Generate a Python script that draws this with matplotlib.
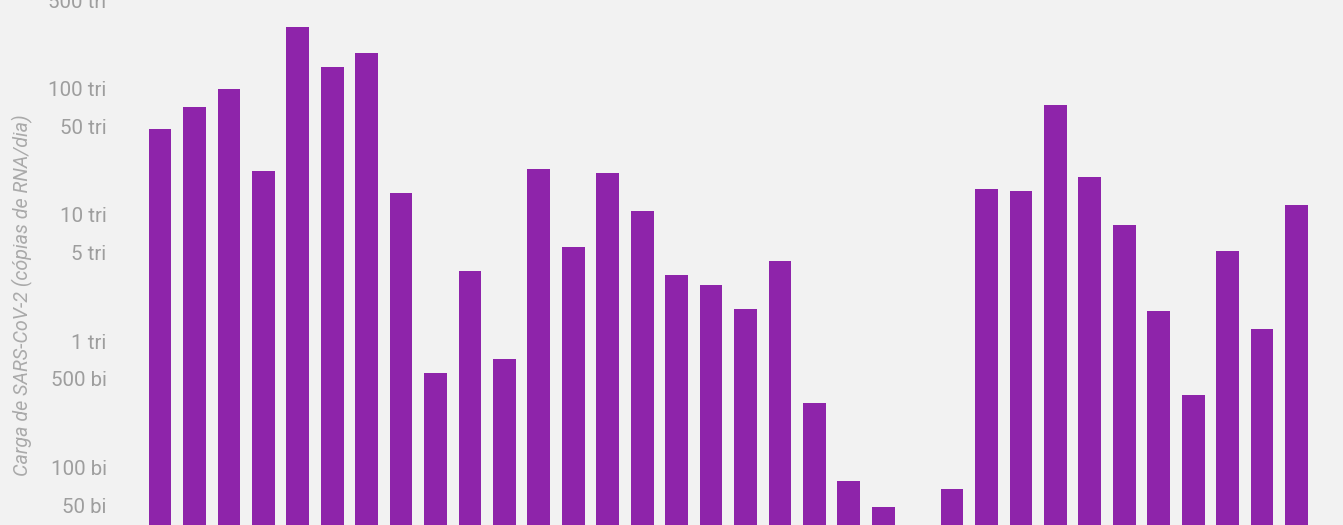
import numpy as np
import matplotlib
matplotlib.use('Agg')
import matplotlib.pyplot as plt

# valores (cópias de RNA/dia), uma barra por semana
semanas = [f'S{i}' for i in range(1, 35)]
carga = [48e12, 72e12, 100e12, 22.3e12, 310e12, 150e12, 193e12, 15e12,
         557e9, 3.6e12, 720e9, 23.2e12, 5.57e12, 21.5e12, 10.8e12, 3.34e12,
         2.78e12, 1.80e12, 4.31e12, 322e9, 77e9, 48e9, np.nan, 67e9,
         16.1e12, 15.5e12, 74.7e12, 20e12, 8.33e12, 1.73e12, 373e9, 5.18e12,
         1.24e12, 12e12]

ticks_y = [5e10, 1e11, 5e11, 1e12, 5e12, 1e13, 5e13, 1e14, 5e14]
labels_y = ['50 bi', '100 bi', '500 bi', '1 tri', '5 tri', '10 tri',
            '50 tri', '100 tri', '500 tri']

bg = '#f2f2f2'
roxo = '#8e24aa'
cinza = '#9e9e9e'

plt.rcParams['font.family'] = ['Roboto', 'DejaVu Sans']

W, H = 1343, 525
fig = plt.figure(figsize=(W / 100, H / 100), dpi=100, facecolor=bg)
x0, x1 = 142.8, 1313.7
ax = fig.add_axes([x0 / W, 0, (x1 - x0) / W, 1])
ax.set_facecolor(bg)

x = np.arange(len(semanas))
ax.bar(x, carga, width=0.66, color=roxo, log=True)

ax.set_yscale('log')
ax.set_ylim(3.47e10, 5.08e14)
ax.set_xlim(-0.5, len(semanas) - 0.5)
ax.set_yticks(ticks_y)
ax.set_yticklabels(labels_y)
ax.yaxis.set_minor_locator(matplotlib.ticker.NullLocator())
ax.tick_params(axis='y', length=0, pad=26, labelsize=14.8, labelcolor=cinza)
ax.set_xticks([])
for s in ax.spines.values():
    s.set_visible(False)

fig.text(22 / W, 1 - 295 / H, 'Carga de SARS-CoV-2 (cópias de RNA/dia)',
         rotation=90, ha='center', va='center', fontsize=14.2,
         fontstyle='italic', color='#aaaaaa')

fig.savefig('out.png', dpi=100, facecolor=bg)
